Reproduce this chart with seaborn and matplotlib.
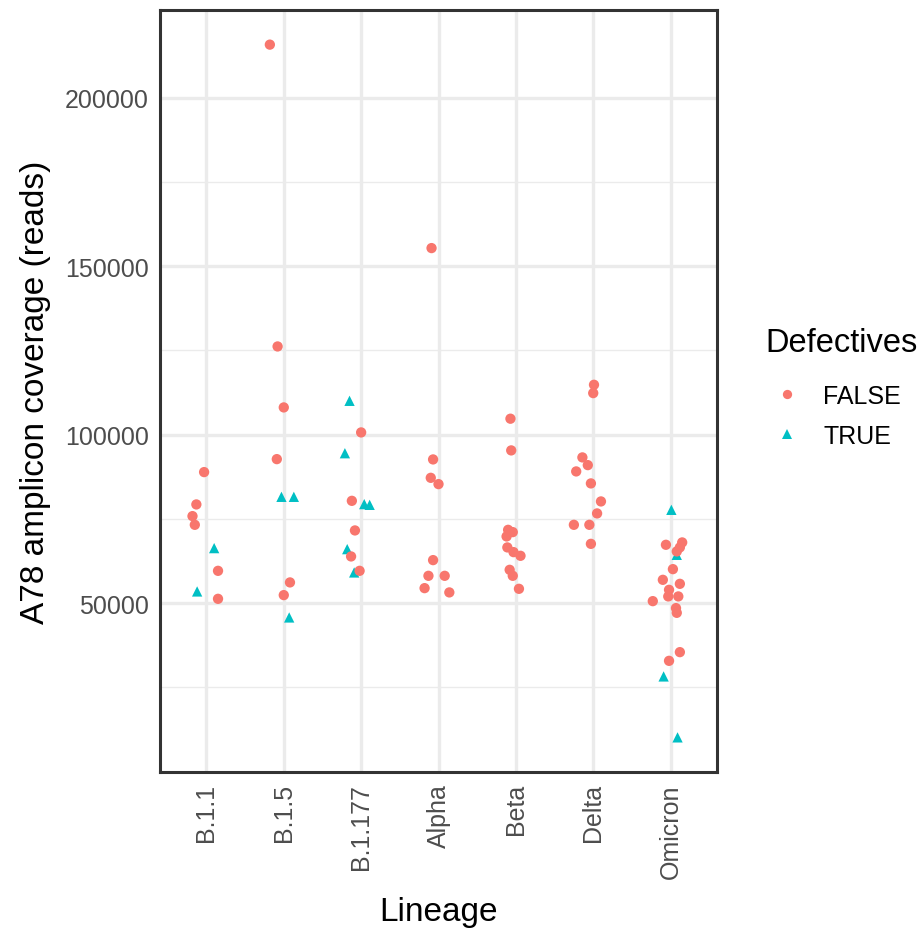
import pandas as pd
import matplotlib
matplotlib.use("Agg")
from matplotlib import pyplot as plt
import seaborn as sns

lineages = ["B.1.1", "B.1.5", "B.1.177", "Alpha", "Beta", "Delta", "Omicron"]

# one entry per sample: lineage, A78 coverage, defective flag, horizontal jitter
point_lineage = (["B.1.1"] * 8 + ["B.1.5"] * 9 + ["B.1.177"] * 11 + ["Alpha"] * 9
                 + ["Beta"] * 11 + ["Delta"] * 11 + ["Omicron"] * 19)
point_coverage = [
    66330, 53470, 88900, 79300, 75830, 73250, 59590, 51280,
    81560, 81560, 45750, 215800, 126200, 108100, 92750, 56150, 52380,
    110060, 94500, 79390, 79180, 66030, 59110, 100680, 80370, 71580, 63860, 59590,
    155400, 92660, 87200, 85330, 62770, 58110, 58110, 54450, 53180,
    104750, 95340, 71760, 71080, 69800, 66540, 65140, 64050, 59890, 58110, 54250,
    114820, 112350, 93260, 90970, 89100, 85540, 80190, 76630, 73250, 73250, 67600,
    77700, 64340, 28240, 10150,
    67320, 68020, 66540, 65350, 60090, 56920, 55730, 53950, 51990, 51990, 50590,
    48520, 47120, 35450, 32870,
]
point_defective = (["TRUE"] * 2 + ["FALSE"] * 6
                   + ["TRUE"] * 3 + ["FALSE"] * 6
                   + ["TRUE"] * 6 + ["FALSE"] * 5
                   + ["FALSE"] * 9
                   + ["FALSE"] * 11
                   + ["FALSE"] * 11
                   + ["TRUE"] * 4 + ["FALSE"] * 15)
point_jitter = [
    0.10, -0.12, -0.03, -0.13, -0.18, -0.15, 0.15, 0.15,
    -0.03, 0.13, 0.07, -0.18, -0.08, 0.00, -0.09, 0.08, 0.00,
    -0.15, -0.21, 0.04, 0.11, -0.18, -0.09, 0.00, -0.12, -0.08, -0.13, -0.02,
    -0.09, -0.07, -0.10, 0.00, -0.07, -0.13, 0.08, -0.18, 0.14,
    -0.07, -0.06, -0.10, -0.04, -0.12, -0.11, -0.03, 0.06, -0.08, -0.04, 0.04,
    0.01, 0.00, -0.14, -0.07, -0.22, -0.03, 0.10, 0.05, -0.25, -0.05, -0.03,
    0.01, 0.08, -0.09, 0.09,
    -0.06, 0.15, 0.12, 0.08, 0.03, -0.10, 0.12, -0.02, -0.03, 0.10, -0.23,
    0.07, 0.08, 0.12, -0.02,
]

y_major = [50000, 100000, 150000, 200000]
y_minor = [25000, 75000, 125000, 175000]

df = pd.DataFrame({"lineage": point_lineage, "coverage": point_coverage,
                   "Defectives": point_defective, "jitter": point_jitter})
df["pos"] = df["lineage"].map({l: i for i, l in enumerate(lineages)}) + df["jitter"]

sns.set_style("white")
plt.rcParams["font.family"] = ["Liberation Sans", "DejaVu Sans"]

fig = plt.figure(figsize=(9.21, 9.29), dpi=100)
ax = fig.add_axes([160 / 921, 1 - 773 / 929, (717 - 160) / 921, (773 - 11) / 929])

sns.scatterplot(data=df, x="pos", y="coverage", hue="Defectives", style="Defectives",
                hue_order=["FALSE", "TRUE"], style_order=["FALSE", "TRUE"],
                palette={"FALSE": "#F8766D", "TRUE": "#00BFC4"},
                markers={"FALSE": "o", "TRUE": "^"}, s=55, linewidth=0, ax=ax, zorder=3)

lo, hi = df["coverage"].min(), df["coverage"].max()
pad = (hi - lo) * 0.05
ax.set_ylim(lo - pad, hi + pad)
ax.set_xlim(-0.6, len(lineages) - 0.4)

ax.set_xticks(range(len(lineages)))
ax.set_xticklabels(lineages, rotation=90)
ax.set_yticks(y_major)
ax.set_yticklabels([str(v) for v in y_major])
ax.set_yticks(y_minor, minor=True)
ax.tick_params(which="major", length=5, width=2.2, color="#333333",
               labelcolor="#4D4D4D", labelsize=18, pad=3)
ax.tick_params(which="minor", length=0)

ax.set_axisbelow(True)
ax.grid(which="major", color="#EBEBEB", linewidth=2.4)
ax.grid(which="minor", axis="y", color="#EBEBEB", linewidth=1.0)
for sp in ax.spines.values():
    sp.set_color("#333333")
    sp.set_linewidth(2.2)

ax.set_xlabel("Lineage", fontsize=24, labelpad=13, color="black")
ax.set_ylabel("A78 amplicon coverage (reads)", fontsize=24, labelpad=10, color="black")

handles, labels = ax.get_legend_handles_labels()
ax.legend_.remove()
fig.text(765 / 921, 1 - 343 / 929, "Defectives", fontsize=23.5, ha="left", va="center",
         color="black")
leg = fig.legend(handles, labels, loc="upper left", bbox_to_anchor=(765 / 921, 1 - 385 / 929),
                 frameon=False, fontsize=18, borderpad=0, borderaxespad=0,
                 handlelength=1.76, handletextpad=0.56, labelspacing=0.62, markerscale=0.9)
for t in leg.get_texts():
    t.set_color("black")

fig.savefig("out.png", dpi=100)
